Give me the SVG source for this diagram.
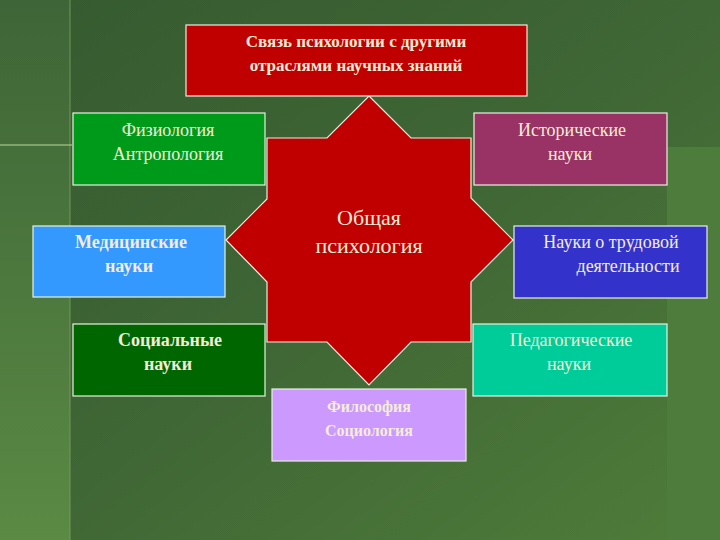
<svg xmlns="http://www.w3.org/2000/svg" width="720" height="540" viewBox="0 0 720 540">
<defs>
<linearGradient id="bg" x1="0" y1="0" x2="1" y2="1">
<stop offset="0" stop-color="#355a30"/>
<stop offset="0.5" stop-color="#3f6635"/>
<stop offset="1" stop-color="#4f7d3a"/>
</linearGradient>
<linearGradient id="lb" x1="0" y1="0" x2="0" y2="1">
<stop offset="0" stop-color="#3e6537"/>
<stop offset="1" stop-color="#5a8a44"/>
</linearGradient>
</defs>
<style>
.b{stroke:#e8f0e0;stroke-width:1.2}
.t{font-family:"Liberation Serif",serif;font-size:18px;fill:#f5ecd8;text-anchor:middle}
.bd{font-weight:bold}
</style>
<rect width="720" height="540" fill="url(#bg)"/>
<rect x="0" y="0" width="70" height="540" fill="url(#lb)"/>
<rect x="667" y="147" width="53" height="393" fill="#4d7c3c"/>
<line x1="70" y1="0" x2="70" y2="540" stroke="#7da060" stroke-width="1.2" opacity="0.7"/>
<line x1="0" y1="145" x2="72" y2="145" stroke="#a8c888" stroke-width="1.5" opacity="0.8"/>
<g id="connectors"></g>
<g id="center">
<polygon class="b" fill="#c00000" points="369,96 411,138 471,138 471,198 513,240 471,282 471,342 411,342 369,385 327,342 267,342 267,282 226,240 267,199 267,138 327,138"/>
<text class="t" font-size="22" x="369" y="225" style="font-size:22px">Общая</text>
<text class="t" x="369" y="253" style="font-size:22px">психология</text>
</g>
<g id="title"><rect class="b" x="186" y="25" width="341" height="71" fill="#c00000"/>
<text class="t bd" x="356" y="47" style="font-size:17px">Связь психологии с другими</text>
<text class="t bd" x="356" y="71" style="font-size:17px">отраслями научных знаний</text></g>
<g id="fiz"><rect class="b" x="73" y="113" width="192" height="72" fill="#009a1a"/>
<text class="t" x="168" y="136">Физиология</text><text class="t" x="168" y="160">Антропология</text></g>
<g id="ist"><rect class="b" x="474" y="113" width="193" height="72" fill="#993366"/>
<text class="t" x="572" y="136">Исторические</text><text class="t" x="570" y="160">науки</text></g>
<g id="med"><rect class="b" x="33" y="226" width="192" height="71" fill="#3399ff"/>
<text class="t bd" x="131" y="248">Медицинские</text><text class="t bd" x="129" y="272">науки</text></g>
<g id="trud"><rect class="b" x="514" y="226" width="193" height="72" fill="#3333cc"/>
<text class="t" x="611" y="248">Науки о трудовой</text><text class="t" x="628" y="272">деятельности</text></g>
<g id="soc"><rect class="b" x="73" y="324" width="192" height="72" fill="#006600"/>
<text class="t bd" x="170" y="346">Социальные</text><text class="t bd" x="168" y="370">науки</text></g>
<g id="ped"><rect class="b" x="473" y="324" width="194" height="72" fill="#00cc99"/>
<text class="t" x="571" y="346">Педагогические</text><text class="t" x="569" y="370">науки</text></g>
<g id="fil"><rect class="b" x="272" y="389" width="194" height="72" fill="#cc99ff"/>
<text class="t bd" x="369" y="412" style="font-size:16px">Философия</text><text class="t bd" x="369" y="436" style="font-size:16px">Социология</text></g>
</svg>
